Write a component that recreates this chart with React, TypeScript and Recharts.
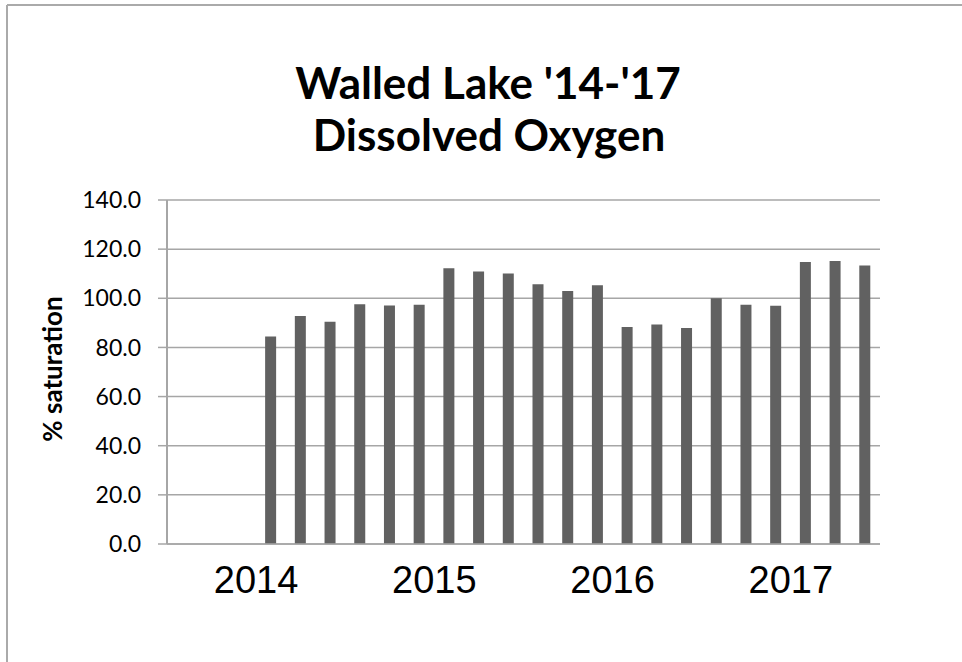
import React from "react";
import { BarChart, Bar, XAxis, YAxis, CartesianGrid } from "recharts";

// six sampling slots per year
const years = ["2014", "2015", "2016", "2017"];
const saturation2014 = [null, null, null, 84.4, 92.8, 90.5];
const saturation2015 = [97.6, 97.1, 97.4, 112.2, 110.9, 110.1];
const saturation2016 = [105.7, 103.0, 105.3, 88.3, 89.3, 87.9];
const saturation2017 = [100.0, 97.4, 97.0, 114.8, 115.2, 113.3];
const yTicks = [0, 20, 40, 60, 80, 100, 120, 140];

const byYear = [saturation2014, saturation2015, saturation2016, saturation2017];

const data = years.flatMap((year, yi) =>
  byYear[yi].map((value, si) => ({ id: `${year}-${si + 1}`, year, value }))
);

const GRID = "#a6a6a6";

const App: React.FC = () => {
  return (
    <div style={{ position: "absolute", left: 0, top: 0, width: 962, height: 662, overflow: "hidden", background: "#fff" }}>
      <BarChart width={962} height={662} data={data} margin={{ top: 200, right: 82, bottom: 0, left: 0 }}>
        <CartesianGrid vertical={false} stroke={GRID} strokeWidth={1.5} />
        <XAxis dataKey="id" hide height={0} />
        <XAxis
          xAxisId="year"
          dataKey="year"
          allowDuplicatedCategory={false}
          height={118}
          tickLine={false}
          tickSize={0}
          tickMargin={22}
          axisLine={{ stroke: GRID, strokeWidth: 1.5 }}
          tick={{ fill: "#000", fontSize: 38, fontFamily: "Liberation Sans, Arial, sans-serif" }}
        />
        <YAxis
          width={167}
          domain={[0, 140]}
          ticks={yTicks}
          tickFormatter={(v: number) => v.toFixed(1)}
          tickSize={9}
          tickMargin={17}
          axisLine={{ stroke: GRID, strokeWidth: 2 }}
          tickLine={{ stroke: GRID, strokeWidth: 1.5 }}
          tick={{ fill: "#000", fontSize: 23, fontFamily: "Lato, sans-serif" }}
        />
        <Bar dataKey="value" fill="#616161" barSize={11} isAnimationActive={false} />
      </BarChart>
      <svg width={962} height={662} style={{ position: "absolute", left: 0, top: 0, pointerEvents: "none" }}>
        <line x1={7} y1={5} x2={962} y2={5} stroke="#aaaaaa" strokeWidth={2} />
        <line x1={7} y1={5} x2={7} y2={662} stroke="#aaaaaa" strokeWidth={2} />
        <text x={488} y={99} textAnchor="middle" fontFamily="Lato, sans-serif" fontWeight={700} fontSize={44} fill="#000">
          Walled Lake '14-'17
        </text>
        <text x={489} y={151} textAnchor="middle" fontFamily="Lato, sans-serif" fontWeight={700} fontSize={44} fill="#000">
          Dissolved Oxygen
        </text>
        <text
          x={0}
          y={0}
          transform="translate(62 369) rotate(-90)"
          textAnchor="middle"
          fontFamily="Lato, sans-serif"
          fontWeight={700}
          fontSize={26}
          fill="#000"
        >
          % saturation
        </text>
      </svg>
    </div>
  );
};

export default App;
